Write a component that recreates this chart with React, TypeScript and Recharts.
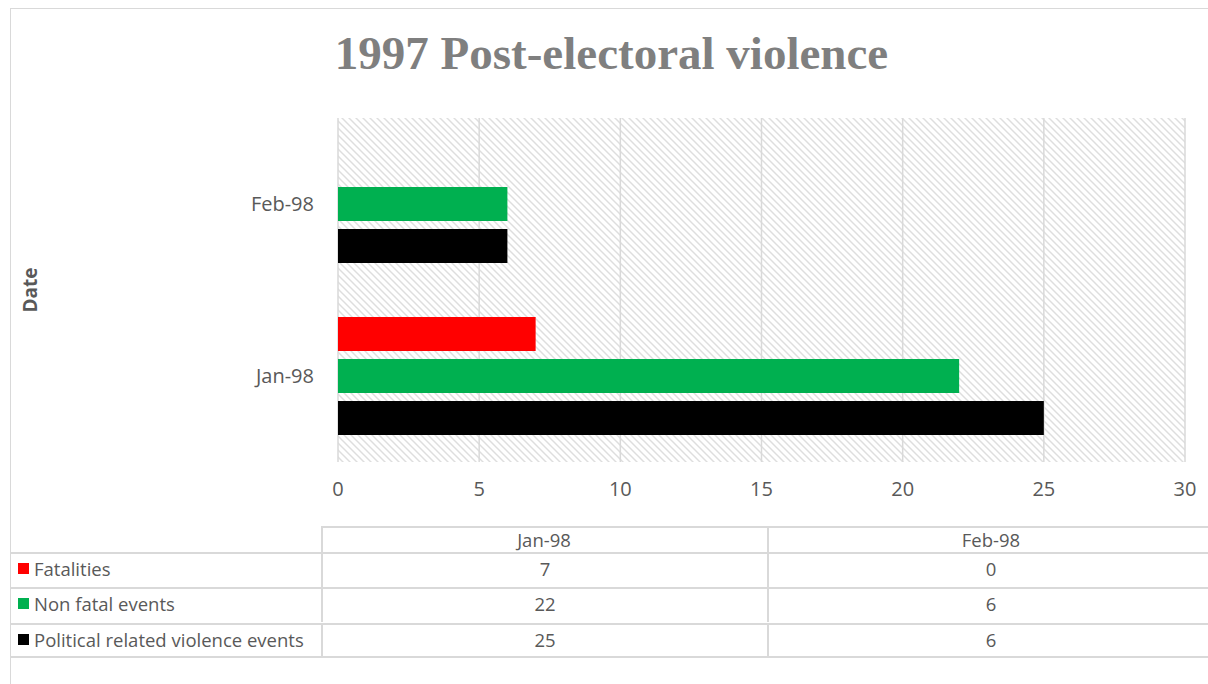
import React from 'react';
import { BarChart, Bar, XAxis, YAxis, CartesianGrid } from 'recharts';

const categories = ['Jan-98', 'Feb-98'];
const fatalities = [7, 0];
const nonFatal = [22, 6];
const political = [25, 6];
const xTicks = [0, 5, 10, 15, 20, 25, 30];

const series = [
  { key: 'fatalities', name: 'Fatalities', color: '#ff0000', values: fatalities },
  { key: 'nonFatal', name: 'Non fatal events', color: '#00b050', values: nonFatal },
  { key: 'political', name: 'Political related violence events', color: '#000000', values: political },
];

const chartData = categories.map((c, i) => ({
  date: c,
  fatalities: fatalities[i],
  nonFatal: nonFatal[i],
  political: political[i],
}));

const FONT = '"Open Sans", sans-serif';
const TEXT = '#595959';
const LINE = '#d9d9d9';
const TABLE_FS = 18.5;

export default function App() {
  return (
    <div style={{ position: 'absolute', left: 0, top: 0, width: 1208, height: 684, background: '#fff', overflow: 'hidden' }}>
      <div style={{ position: 'absolute', left: 10, top: 8, width: 1210, height: 700, border: `1px solid ${LINE}` }} />
      <div
        style={{
          position: 'absolute', left: 0, top: 26, width: 1223, textAlign: 'center',
          fontFamily: '"Liberation Serif", serif', fontWeight: 'bold', fontSize: 47, color: '#7f7f7f',
        }}
      >
        1997 Post-electoral violence
      </div>
      <div
        style={{
          position: 'absolute', left: 30, top: 290, transform: 'translate(-50%, -50%) rotate(-90deg)',
          fontFamily: FONT, fontWeight: 'bold', fontSize: 19, color: TEXT, whiteSpace: 'nowrap',
        }}
      >
        Date
      </div>
      <div style={{ position: 'absolute', left: 0, top: 0 }}>
        <BarChart
          width={1208}
          height={520}
          data={chartData}
          layout="vertical"
          margin={{ top: 118, right: 23, bottom: 0, left: 0 }}
          barCategoryGap="15.4%"
          barGap={8}
        >
          <defs>
            <pattern id="hatch" width="7" height="7" patternUnits="userSpaceOnUse">
              <path d="M0,0 L7,7 M-1,6 L1,8 M6,-1 L8,1" stroke="#dedede" strokeWidth="1.5" />
            </pattern>
          </defs>
          <CartesianGrid horizontal={false} stroke={LINE} strokeWidth={1.5} fill="url(#hatch)" fillOpacity={1} />
          <XAxis
            type="number"
            domain={[0, 30]}
            ticks={xTicks}
            axisLine={false}
            tickLine={false}
            tickMargin={14}
            height={58}
            tick={{ fontSize: 20, fill: TEXT, fontFamily: FONT }}
          />
          <YAxis
            type="category"
            dataKey="date"
            reversed
            width={338}
            axisLine={false}
            tickLine={false}
            tickMargin={18}
            tick={{ fontSize: 20, fill: TEXT, fontFamily: FONT }}
          />
          {series.map(s => (
            <Bar key={s.key} dataKey={s.key} name={s.name} fill={s.color} barSize={34} isAnimationActive={false} />
          ))}
        </BarChart>
      </div>
      {/* data table */}
      <div style={{ position: 'absolute', left: 321, top: 526, width: 900, height: 26, borderTop: `2px solid ${LINE}`, borderLeft: `2px solid ${LINE}` }} />
      {categories.map((c, i) => (
        <div
          key={c}
          style={{
            position: 'absolute', left: 321 + i * 446, top: 527, width: 446, height: 25, lineHeight: '25px',
            textAlign: 'center', fontFamily: FONT, fontSize: TABLE_FS, color: TEXT,
            borderLeft: i > 0 ? `2px solid ${LINE}` : undefined, boxSizing: 'border-box',
          }}
        >
          {c}
        </div>
      ))}
      {series.map((s, r) => (
        <div key={s.key} style={{ position: 'absolute', left: 10, top: 552 + r * 35.3, width: 1210, height: 35, borderTop: `2px solid ${LINE}`, boxSizing: 'border-box' }}>
          <div style={{ position: 'absolute', left: 8, top: -2, height: 33, display: 'flex', alignItems: 'center', fontFamily: FONT, fontSize: TABLE_FS, color: TEXT, whiteSpace: 'nowrap' }}>
            <span style={{ display: 'inline-block', width: 11, height: 11, background: s.color, marginRight: 5 }} />
            {s.name}
          </div>
          {s.values.map((v, i) => (
            <div
              key={i}
              style={{
                position: 'absolute', left: 311 + i * 446, top: 0, width: 446, height: 33, lineHeight: '30px',
                textAlign: 'center', fontFamily: FONT, fontSize: TABLE_FS, color: TEXT,
                borderLeft: `2px solid ${LINE}`, boxSizing: 'border-box',
              }}
            >
              {v}
            </div>
          ))}
        </div>
      ))}
      <div style={{ position: 'absolute', left: 10, top: 656, width: 1210, borderTop: `2px solid ${LINE}` }} />
    </div>
  );
}
